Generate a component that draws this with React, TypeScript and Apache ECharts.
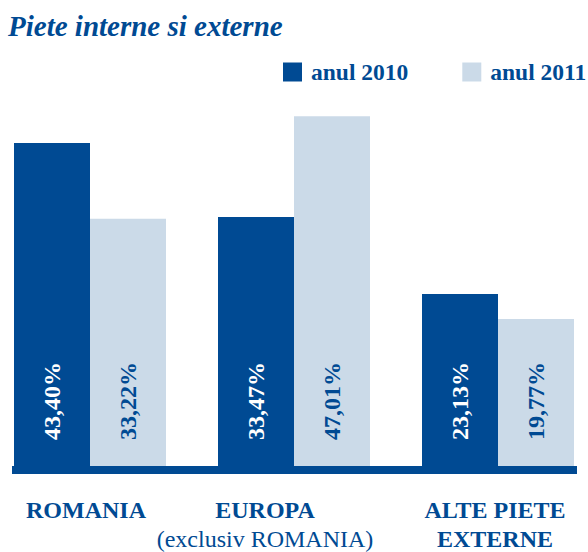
import React, { useEffect, useRef } from "react";
import * as echarts from "echarts";

const title = "Piete interne si externe";
const categories = ["ROMANIA", "EUROPA", "ALTE PIETE\nEXTERNE"];
const subLabels = ["", "(exclusiv ROMANIA)", ""];
const seriesNames = ["anul 2010", "anul 2011"];
const values2010 = [43.4, 33.47, 23.13];
const values2011 = [33.22, 47.01, 19.77];

const DARK = "#004a93";
const LIGHT = "#cbdae8";
const FONT = "'Liberation Serif', 'Times New Roman', serif";
const LABEL_SHIFT = [8, 58, 6];

export default function App() {
  const ref = useRef<HTMLDivElement>(null);
  useEffect(() => {
    if (!ref.current) return;
    const chart = echarts.init(ref.current, null, { renderer: "svg" });
    const fmt = (v: number) => v.toFixed(2).replace(".", ",") + "%";
    const labelFor = (color: string) => ({
      show: true,
      position: "insideBottom",
      rotate: 90,
      distance: 26,
      align: "left",
      verticalAlign: "middle",
      color,
      fontFamily: FONT,
      fontWeight: "bold",
      fontSize: 24,
      formatter: (p: any) => fmt(p.value),
    });
    chart.setOption({
      animation: false,
      title: {
        text: title,
        left: 8,
        top: 11,
        padding: 0,
        textStyle: {
          fontFamily: FONT,
          fontStyle: "italic",
          fontWeight: "bold",
          fontSize: 29,
          color: DARK,
        },
      },
      legend: {
        left: 283,
        top: 60,
        padding: 0,
        itemWidth: 19,
        itemHeight: 19,
        itemGap: 54,
        icon: "rect",
        data: seriesNames,
        textStyle: {
          fontFamily: FONT,
          fontWeight: "bold",
          fontSize: 23.5,
          color: DARK,
          padding: [0, 0, 0, 4],
        },
      },
      grid: {
        left: -12,
        right: -12,
        top: 94,
        bottom: 86,
        outerBoundsMode: "none",
        containLabel: false,
      },
      xAxis: {
        type: "category",
        data: categories.map((c, i) => ({
          value: c,
          textStyle: { padding: [0, LABEL_SHIFT[i], 0, 0] },
        })),
        axisLine: { show: false },
        axisTick: { show: false },
        axisLabel: {
          margin: 29,
          lineHeight: 29,
          interval: 0,
          formatter: (v: string, i: number) => {
            const main = v
              .split("\n")
              .map((s) => "{b|" + s + "}")
              .join("\n");
            return subLabels[i] ? main + "\n{n|" + subLabels[i] + "}" : main;
          },
          rich: {
            b: {
              fontFamily: FONT,
              fontWeight: "bold",
              fontSize: 24,
              color: DARK,
              lineHeight: 29,
            },
            n: {
              fontFamily: FONT,
              fontSize: 24,
              color: DARK,
              lineHeight: 29,
            },
          },
        },
      },
      yAxis: {
        type: "value",
        min: 0,
        max: 50,
        show: false,
        splitLine: { show: false },
      },
      graphic: [
        {
          type: "rect",
          shape: { x: 12, y: 466, width: 565, height: 8 },
          style: { fill: DARK },
          z: 10,
        },
      ],
      series: [
        {
          name: seriesNames[0],
          type: "bar",
          data: values2010,
          barWidth: 76,
          barGap: "0%",
          itemStyle: { color: DARK },
          label: labelFor("#ffffff"),
        },
        {
          name: seriesNames[1],
          type: "bar",
          data: values2011,
          barWidth: 76,
          barGap: "0%",
          itemStyle: { color: LIGHT },
          label: labelFor(DARK),
        },
      ],
    });
    return () => chart.dispose();
  }, []);
  return (
    <div
      ref={ref}
      style={{ position: "absolute", left: 0, top: 0, width: 588, height: 552 }}
    />
  );
}
